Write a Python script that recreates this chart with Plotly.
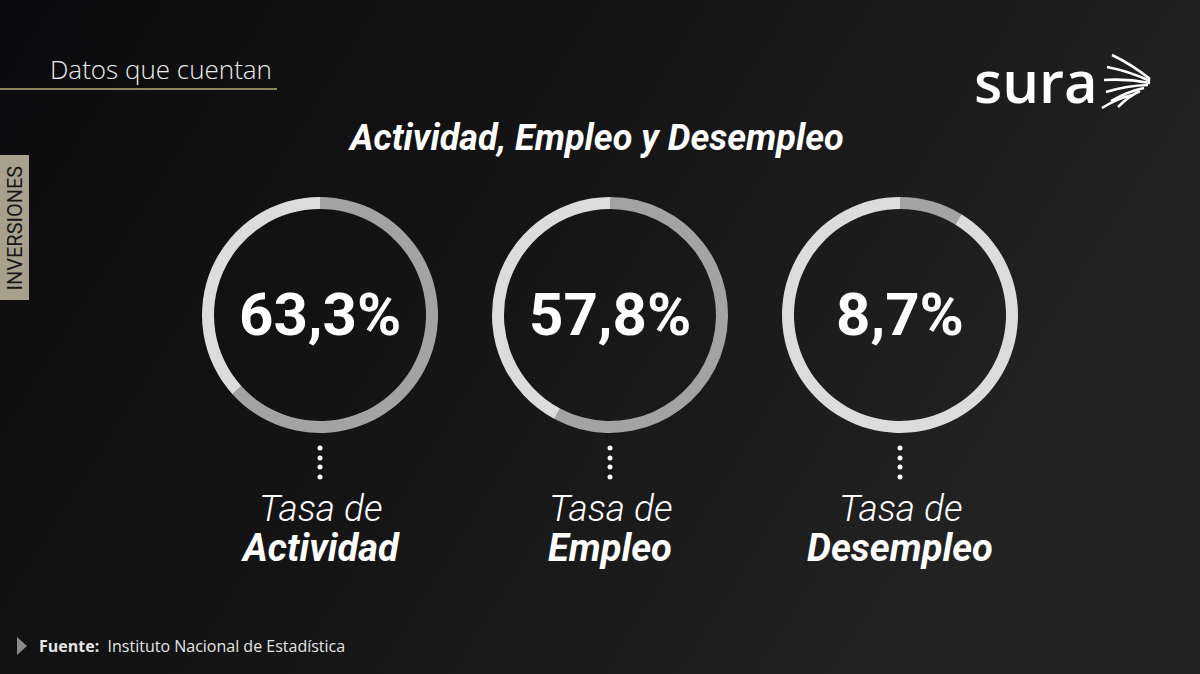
import base64
import plotly.graph_objects as go

# ---------------- data ----------------
categories = ["Actividad", "Empleo", "Desempleo"]
rates = [63.3, 57.8, 8.7]
rate_labels = ["63,3%", "57,8%", "8,7%"]
caption_top = ["Tasa de", "Tasa de", "Tasa de"]

title_text = "Actividad, Empleo y Desempleo"
header_text = "Datos que cuentan"
side_text = "INVERSIONES"
source_bold = "Fuente:"
source_text = "Instituto Nacional de Estadística"

# ---------------- layout constants ----------------
W, H = 1200, 674
centers_x = [320, 610, 900]
center_y = 315
R = 118
ring = 12

fig = go.Figure()

# background gradient as inline svg
svg = f'''<svg xmlns="http://www.w3.org/2000/svg" width="{W}" height="{H}">
<defs><linearGradient id="g" x1="0" y1="0" x2="1" y2="0.35">
<stop offset="0" stop-color="#0b0b0d"/><stop offset="0.55" stop-color="#161617"/>
<stop offset="1" stop-color="#232323"/></linearGradient></defs>
<rect width="{W}" height="{H}" fill="url(#g)"/></svg>'''
src = "data:image/svg+xml;base64," + base64.b64encode(svg.encode()).decode()

for i, (cat, v) in enumerate(zip(categories, rates)):
    cx = centers_x[i]
    yc = H - center_y
    fig.add_trace(go.Pie(
        values=[v, 100 - v],
        labels=[cat, "Resto"],
        hole=(R - ring) / R,
        sort=False,
        direction="clockwise",
        rotation=0,
        marker=dict(colors=["#a3a3a3", "#dcdcdc"], line=dict(width=0)),
        textinfo="none",
        hoverinfo="label+value",
        showlegend=False,
        domain=dict(x=[(cx - R) / W, (cx + R) / W], y=[(yc - R) / H, (yc + R) / H]),
    ))

# dotted connectors (pixel overlay axes)
dot_offsets = [448, 458, 467, 477]
for cx in centers_x:
    fig.add_trace(go.Scatter(
        x=[cx] * len(dot_offsets), y=dot_offsets, mode="markers",
        marker=dict(color="white", size=5), hoverinfo="skip", showlegend=False,
        xaxis="x", yaxis="y",
    ))

ann = []
for i, cx in enumerate(centers_x):
    ann.append(dict(x=cx, y=314, text=f"<b>{rate_labels[i]}</b>", showarrow=False,
                    font=dict(family="Roboto", size=60, color="white"),
                    xanchor="center", yanchor="middle"))
    ann.append(dict(x=cx, y=508, text=f"<i>{caption_top[i]}</i>", showarrow=False,
                    font=dict(family="Roboto", size=37, color="white", weight=300),
                    xanchor="center", yanchor="middle"))
    ann.append(dict(x=cx, y=548, text=f"<b><i>{categories[i]}</i></b>", showarrow=False,
                    font=dict(family="Roboto", size=38, color="white"),
                    xanchor="center", yanchor="middle"))

ann.append(dict(x=596, y=138, text=f"<b><i>{title_text}</i></b>", showarrow=False,
                font=dict(family="Roboto", size=36, color="white"),
                xanchor="center", yanchor="middle"))
ann.append(dict(x=48, y=69, text=header_text, showarrow=False,
                font=dict(family="Open Sans", size=26, color="#ececec", weight=300),
                xanchor="left", yanchor="middle"))
ann.append(dict(x=14.5, y=228, text=side_text, showarrow=False, textangle=-90,
                font=dict(family="Roboto", size=20, color="#161616"),
                xanchor="center", yanchor="middle"))
ann.append(dict(x=37, y=646, text=f"<b>{source_bold}</b>  {source_text}", showarrow=False,
                font=dict(family="Open Sans", size=16, color="#e4e4e4"),
                xanchor="left", yanchor="middle"))
ann.append(dict(x=972, y=80, text="sura", showarrow=False,
                font=dict(family="Open Sans", size=58, color="white", weight=600),
                xanchor="left", yanchor="middle"))

shapes = [
    dict(type="line", xref="x", yref="y", x0=0, x1=277, y0=89, y1=89,
         line=dict(color="#8c8557", width=2)),
    dict(type="rect", xref="x", yref="y", x0=0, x1=29, y0=155, y1=300,
         fillcolor="#a89f8d", line=dict(width=0), layer="below"),
    dict(type="path", xref="x", yref="y", path="M 17 637 L 27 646 L 17 655 Z",
         fillcolor="#8a8a8a", line=dict(width=0)),
]
# wing strokes of the logo
wing = [((1112, 55), (1150, 79)), ((1107, 67), (1150, 81)), ((1104, 80), (1150, 83)),
        ((1106, 92), (1148, 85)), ((1111, 101), (1144, 88)), ((1118, 107), (1140, 91)),
        ((1102, 108), (1132, 95))]
for (a, b) in wing:
    shapes.append(dict(type="path", xref="x", yref="y",
                       path=f"M {a[0]} {a[1]} Q {(a[0]+b[0])/2} {(a[1]+b[1])/2 - 3} {b[0]} {b[1]}",
                       line=dict(color="white", width=2.5)))

fig.update_layout(
    width=W, height=H, margin=dict(l=0, r=0, t=0, b=0),
    paper_bgcolor="#151515", plot_bgcolor="rgba(0,0,0,0)",
    xaxis=dict(range=[0, W], visible=False, domain=[0, 1], fixedrange=True),
    yaxis=dict(range=[H, 0], visible=False, domain=[0, 1], fixedrange=True),
    annotations=ann, shapes=shapes,
    images=[dict(source=src, xref="paper", yref="paper", x=0, y=1, sizex=1, sizey=1,
                 sizing="stretch", xanchor="left", yanchor="top", layer="below")],
    showlegend=False,
)

fig.write_html("out.html", config={"displayModeBar": False})
